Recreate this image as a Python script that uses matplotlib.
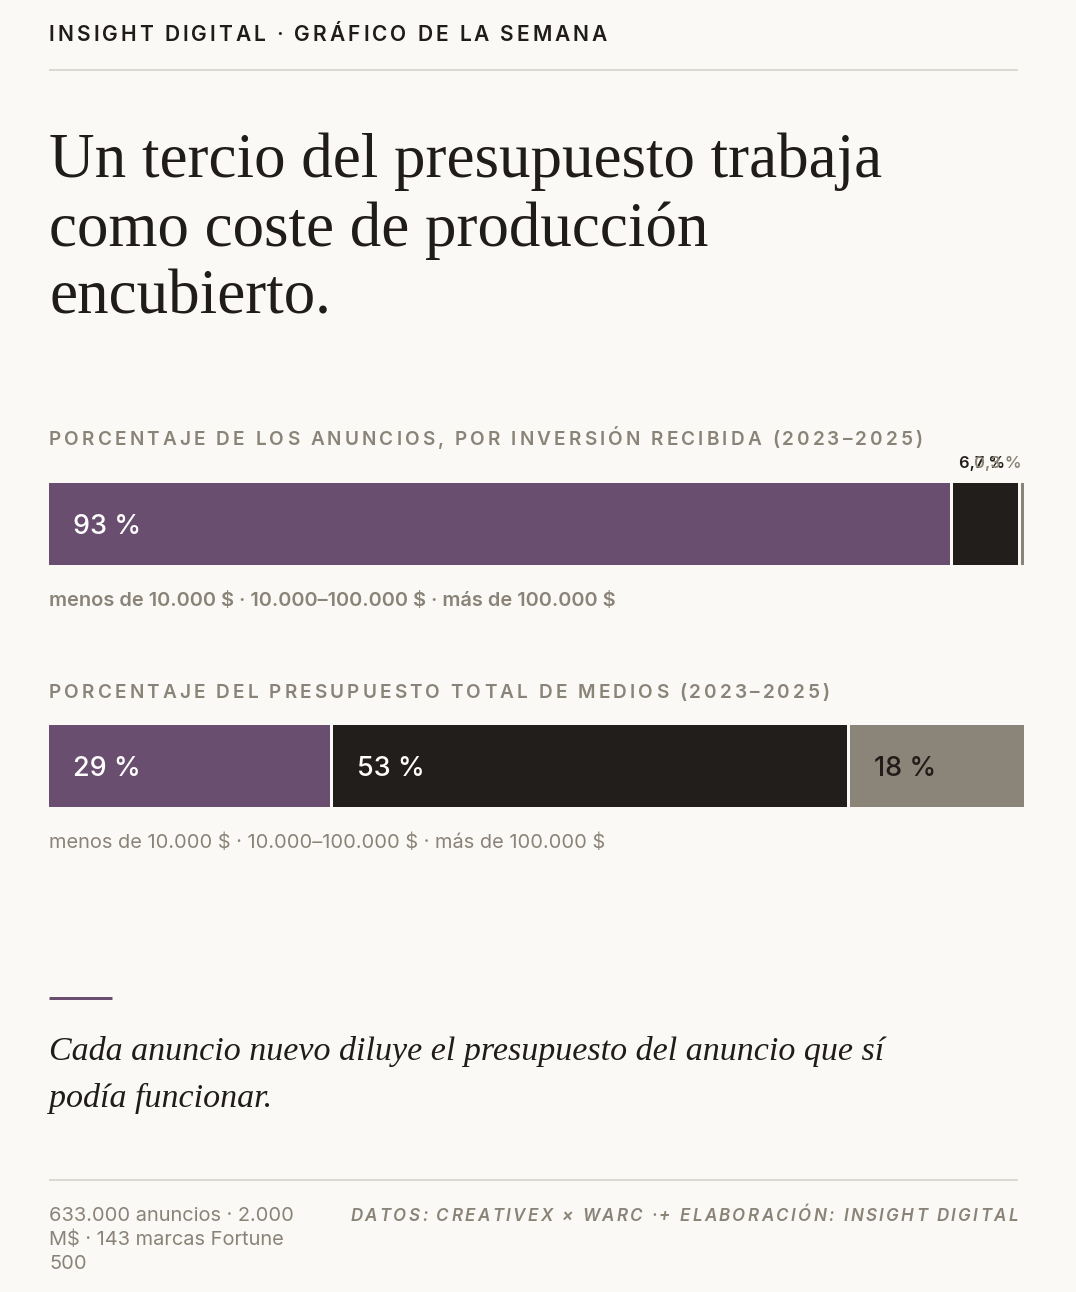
import matplotlib
matplotlib.use("Agg")
import matplotlib.pyplot as plt
from matplotlib.font_manager import FontProperties
from matplotlib.transforms import ScaledTranslation

plt.rcParams["text.parse_math"] = False

# ---- data ---------------------------------------------------------------
CATEGORIES = ["menos de 10.000 $", "10.000–100.000 $", "más de 100.000 $"]
SHARE_ADS = [93.0, 6.7, 0.3]        # % de los anuncios
SHARE_BUDGET = [29.0, 53.0, 18.0]   # % del presupuesto total de medios

# ---- style --------------------------------------------------------------
W, H = 1076, 1292
DPI = 100
BG = "#FAF9F5"
INK = "#1F1C19"
MUTED = "#8A8378"
RULE = "#DCD9D3"
SEG_COLORS = ["#6A4E6F", "#221E1B", "#8B8479"]
SEG_TEXT = ["white", "white", INK]

SANS = ["Inter", "DejaVu Sans"]
SERIF = ["Liberation Serif", "DejaVu Serif"]

X0, X1 = 49, 1018        # content margins (px)
BAR_X1 = 1024


def fp(px, family=SANS, weight="normal", style="normal"):
    return FontProperties(family=family, size=px * 72 / DPI, weight=weight, style=style)


fig = plt.figure(figsize=(W / DPI, H / DPI), dpi=DPI)
fig.patch.set_facecolor(BG)
renderer = fig.canvas.get_renderer()


def fx(x):
    return x / W


def fy(y):
    return 1 - y / H


def _w(s, prop):
    w, _, _ = renderer.get_text_width_height_descent(s, prop, ismath=False)
    return w


def text(x, y, s, prop, color, ha="left"):
    return fig.text(fx(x), fy(y), s, fontproperties=prop, color=color,
                    ha=ha, va="baseline")


def spaced(x, y, s, prop, spacing, color, ha="left"):
    """Letter-spaced text, drawn glyph by glyph."""
    ref = _w("H", prop)
    adv = [_w(s[:i] + "H", prop) - ref for i in range(len(s))]
    total = _w(s, prop) + spacing * (len(s) - 1)
    start = x - total if ha == "right" else x
    for i, ch in enumerate(s):
        if ch == " ":
            continue
        text(start + adv[i] + i * spacing, y, ch, prop, color)


def hline(y, x0, x1, color, lw_px):
    fig.add_artist(plt.Line2D([fx(x0), fx(x1)], [fy(y), fy(y)],
                              transform=fig.transFigure, color=color,
                              linewidth=lw_px * 72 / DPI, solid_capstyle="butt"))


def fmt_pct(v):
    return f"{v:g}".replace(".", ",") + " %"


def bar_row(y_top, y_bot, values):
    width_px = BAR_X1 - X0
    gap_px = 3.0
    n = len(values)
    gap = gap_px * sum(values) / (width_px - gap_px * (n - 1))
    total = sum(values) + gap * (n - 1)
    ax = fig.add_axes([fx(X0), fy(y_bot), width_px / W, (y_bot - y_top) / H])
    ax.set_xlim(0, total)
    ax.set_ylim(0, 1)
    ax.axis("off")
    px_per_unit = width_px / total

    inner = fp(27, weight=500)
    above = fp(16.5, weight=600)
    cap = 0.727 * 27
    left = 0.0
    for v, c, tc in zip(values, SEG_COLORS, SEG_TEXT):
        ax.barh(0.5, v, left=left, height=1.0, color=c, linewidth=0)
        lab = fmt_pct(v)
        seg_px = v * px_per_unit
        if _w(lab, inner) + 48 <= seg_px:
            tr = ax.transData + ScaledTranslation(24 / DPI, -cap / 2 / DPI,
                                                  fig.dpi_scale_trans)
            ax.text(left, 0.5, lab, transform=tr, fontproperties=inner,
                    color=tc, ha="left", va="baseline")
        else:
            seg_x = X0 + left * px_per_unit
            lw = _w(lab, above)
            if seg_x + 8 + lw > BAR_X1:
                text(seg_x + seg_px - 2, y_top - 15, lab, above, c, ha="right")
            else:
                text(seg_x + 6, y_top - 15, lab, above, c)
        left += v + gap
    return ax


# ---- header ---------------------------------------------------------------
spaced(X0, 41, "INSIGHT DIGITAL · GRÁFICO DE LA SEMANA", fp(21, weight=600), 2.95, INK)
hline(70, X0, X1, RULE, 2)

title_font = fp(63, family=SERIF)
for i, line in enumerate(["Un tercio del presupuesto trabaja",
                          "como coste de producción",
                          "encubierto."]):
    text(X0, 177 + i * 68.5, line, title_font, INK)

# ---- bar 1 ---------------------------------------------------------------
caption = " · ".join(CATEGORIES)
label_font = fp(19, weight=600)
spaced(X0, 445, "PORCENTAJE DE LOS ANUNCIOS, POR INVERSIÓN RECIBIDA (2023–2025)",
       label_font, 3.1, MUTED)
bar_row(483, 565, SHARE_ADS)
text(X0, 606, caption, fp(20, weight=600), MUTED)

# ---- bar 2 ---------------------------------------------------------------
spaced(X0, 698, "PORCENTAJE DEL PRESUPUESTO TOTAL DE MEDIOS (2023–2025)",
       label_font, 3.1, MUTED)
bar_row(725, 807, SHARE_BUDGET)
text(X0, 848, caption, fp(20), MUTED)

# ---- quote ---------------------------------------------------------------
hline(998, X0, 112, SEG_COLORS[0], 3)
quote_font = fp(34, family=SERIF, style="italic")
text(X0, 1060, "Cada anuncio nuevo diluye el presupuesto del anuncio que sí", quote_font, INK)
text(X0, 1107, "podía funcionar.", quote_font, INK)

# ---- footer --------------------------------------------------------------
hline(1180, X0, X1, RULE, 2)
foot = fp(20)
for i, line in enumerate(["633.000 anuncios · 2.000", "M$ · 143 marcas Fortune", "500"]):
    text(X0, 1221 + i * 24, line, foot, MUTED)
spaced(X1, 1221, "DATOS: CREATIVEX × WARC ·+ ELABORACIÓN: INSIGHT DIGITAL",
       fp(17, weight=600, style="italic"), 2.35, MUTED, ha="right")

fig.savefig("out.png", dpi=DPI, facecolor=BG)
